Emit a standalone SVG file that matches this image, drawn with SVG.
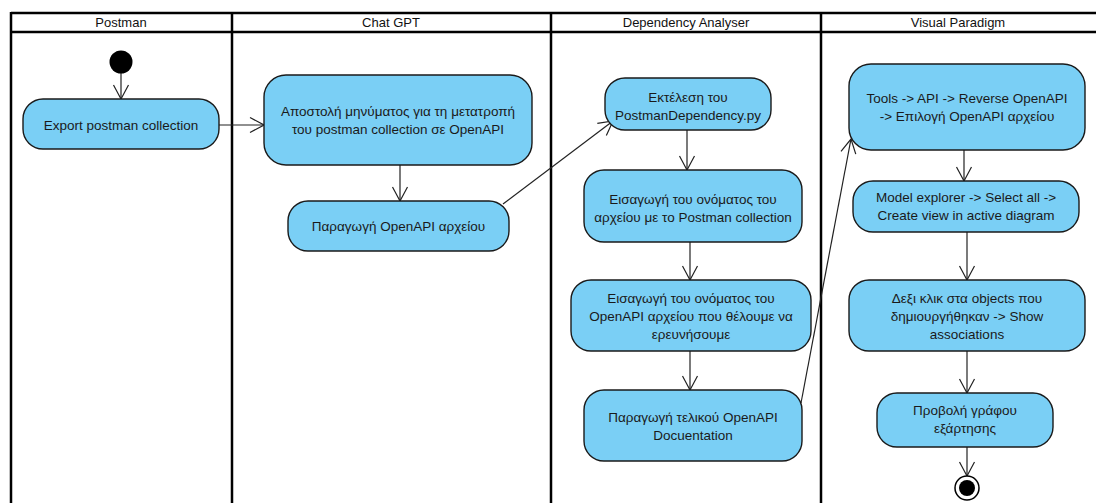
<svg xmlns="http://www.w3.org/2000/svg" width="1096" height="503" viewBox="0 0 1096 503">
  <defs>
    <style>
      .lane { fill: none; stroke: #000; stroke-width: 2.5; }
      .head { font-family: "Liberation Sans", Arial, sans-serif; font-size: 13px; fill: #111; text-anchor: middle; }
      .act { fill: #7ACFF5; stroke: #1a1a1a; stroke-width: 1.4; }
      .lbl { font-family: "Liberation Sans", Arial, sans-serif; font-size: 13.5px; fill: #1a1a1a; text-anchor: middle; }
      .flow { fill: none; stroke: #222; stroke-width: 1.2; marker-end: url(#open); }
    </style>
    <!-- open "V" arrowhead for control flows -->
    <marker id="open" viewBox="0 0 16 18" refX="15" refY="9" markerWidth="16" markerHeight="18" markerUnits="userSpaceOnUse" orient="auto">
      <path d="M1,1.5 L15,9 L1,16.5" fill="none" stroke="#222" stroke-width="1.2"/>
    </marker>
  </defs>

  <rect width="1096" height="503" fill="#fff"/>

  <!-- swimlanes -->
  <g id="lanes">
    <line class="lane" x1="11" y1="13" x2="1096" y2="13"/>
    <line class="lane" x1="11" y1="32" x2="1096" y2="32"/>
    <line class="lane" x1="11" y1="12" x2="11" y2="503"/>
    <line class="lane" x1="232" y1="12" x2="232" y2="503" stroke-width="3"/>
    <line class="lane" x1="551" y1="12" x2="551" y2="503" stroke-width="3"/>
    <line class="lane" x1="821" y1="12" x2="821" y2="503" stroke-width="3"/>
    <text class="head" x="121" y="27">Postman</text>
    <text class="head" x="391" y="27">Chat GPT</text>
    <text class="head" x="686" y="27">Dependency Analyser</text>
    <text class="head" x="958" y="27">Visual Paradigm</text>
  </g>

  <!-- control flows -->
  <g id="connectors">
    <line class="flow" x1="121" y1="73" x2="121" y2="99"/>
    <line class="flow" x1="219" y1="125" x2="264" y2="125"/>
    <line class="flow" x1="400" y1="165" x2="400" y2="201"/>
    <line class="flow" x1="503" y1="204" x2="613" y2="121"/>
    <line class="flow" x1="687" y1="130" x2="687" y2="170"/>
    <line class="flow" x1="690" y1="242" x2="690" y2="280"/>
    <line class="flow" x1="690" y1="351" x2="690" y2="390"/>
    <line class="flow" x1="801" y1="403" x2="851" y2="139"/>
    <line class="flow" x1="964" y1="150" x2="964" y2="181"/>
    <line class="flow" x1="967" y1="232" x2="967" y2="280"/>
    <line class="flow" x1="967" y1="351" x2="967" y2="393"/>
    <line class="flow" x1="967" y1="447" x2="967" y2="476"/>
  </g>

  <g id="start">
    <circle cx="121" cy="62" r="11.5" fill="#000"/>
  </g>

  <g id="export">
    <rect class="act" x="23" y="99" width="196" height="50" rx="20"/>
    <text class="lbl" x="121" y="129.5">Export postman collection</text>
  </g>

  <g id="send-message">
    <rect class="act" x="264" y="75" width="268" height="90" rx="22"/>
    <text class="lbl" x="398" y="116">Αποστολή μηνύματος για τη μετατροπή</text>
    <text class="lbl" x="398" y="134">του postman collection σε OpenAPI</text>
  </g>

  <g id="generate-openapi">
    <rect class="act" x="288" y="201" width="221" height="50" rx="20"/>
    <text class="lbl" x="398.5" y="230.5">Παραγωγή OpenAPI αρχείου</text>
  </g>

  <g id="run-script">
    <rect class="act" x="605" y="78" width="166" height="52" rx="20"/>
    <text class="lbl" x="688" y="102">Εκτέλεση του</text>
    <text class="lbl" x="688" y="120">PostmanDependency.py</text>
  </g>

  <g id="enter-collection">
    <rect class="act" x="584" y="170" width="218" height="72" rx="20"/>
    <text class="lbl" x="693" y="204">Εισαγωγή του ονόματος του</text>
    <text class="lbl" x="693" y="222">αρχείου με το Postman collection</text>
  </g>

  <g id="enter-openapi">
    <rect class="act" x="571" y="280" width="240" height="71" rx="20"/>
    <text class="lbl" x="691" y="303">Εισαγωγή του ονόματος του</text>
    <text class="lbl" x="691" y="321">OpenAPI αρχείου που θέλουμε να</text>
    <text class="lbl" x="691" y="339">ερευνήσουμε</text>
  </g>

  <g id="final-doc">
    <rect class="act" x="584" y="390" width="218" height="71" rx="20"/>
    <text class="lbl" x="693" y="422">Παραγωγή τελικού OpenAPI</text>
    <text class="lbl" x="693" y="440">Docuentation</text>
  </g>

  <g id="reverse-openapi">
    <rect class="act" x="849" y="64" width="236" height="86" rx="22"/>
    <text class="lbl" x="967" y="103">Tools -&gt; API -&gt; Reverse OpenAPI</text>
    <text class="lbl" x="967" y="121">-&gt; Επιλογή OpenAPI αρχείου</text>
  </g>

  <g id="create-view">
    <rect class="act" x="853" y="181" width="226" height="51" rx="20"/>
    <text class="lbl" x="966" y="202">Model explorer -&gt; Select all -&gt;</text>
    <text class="lbl" x="966" y="220">Create view in active diagram</text>
  </g>

  <g id="show-associations">
    <rect class="act" x="849" y="280" width="236" height="71" rx="20"/>
    <text class="lbl" x="967" y="303">Δεξι κλικ στα objects που</text>
    <text class="lbl" x="967" y="321">δημιουργήθηκαν -&gt; Show</text>
    <text class="lbl" x="967" y="339">associations</text>
  </g>

  <g id="view-graph">
    <rect class="act" x="877" y="393" width="176" height="54" rx="20"/>
    <text class="lbl" x="965" y="415">Προβολή γράφου</text>
    <text class="lbl" x="965" y="433">εξάρτησης</text>
  </g>

  <g id="end">
    <circle cx="967" cy="488" r="12" fill="#fff" stroke="#000" stroke-width="1.5"/>
    <circle cx="967" cy="488" r="8" fill="#000"/>
  </g>
</svg>
